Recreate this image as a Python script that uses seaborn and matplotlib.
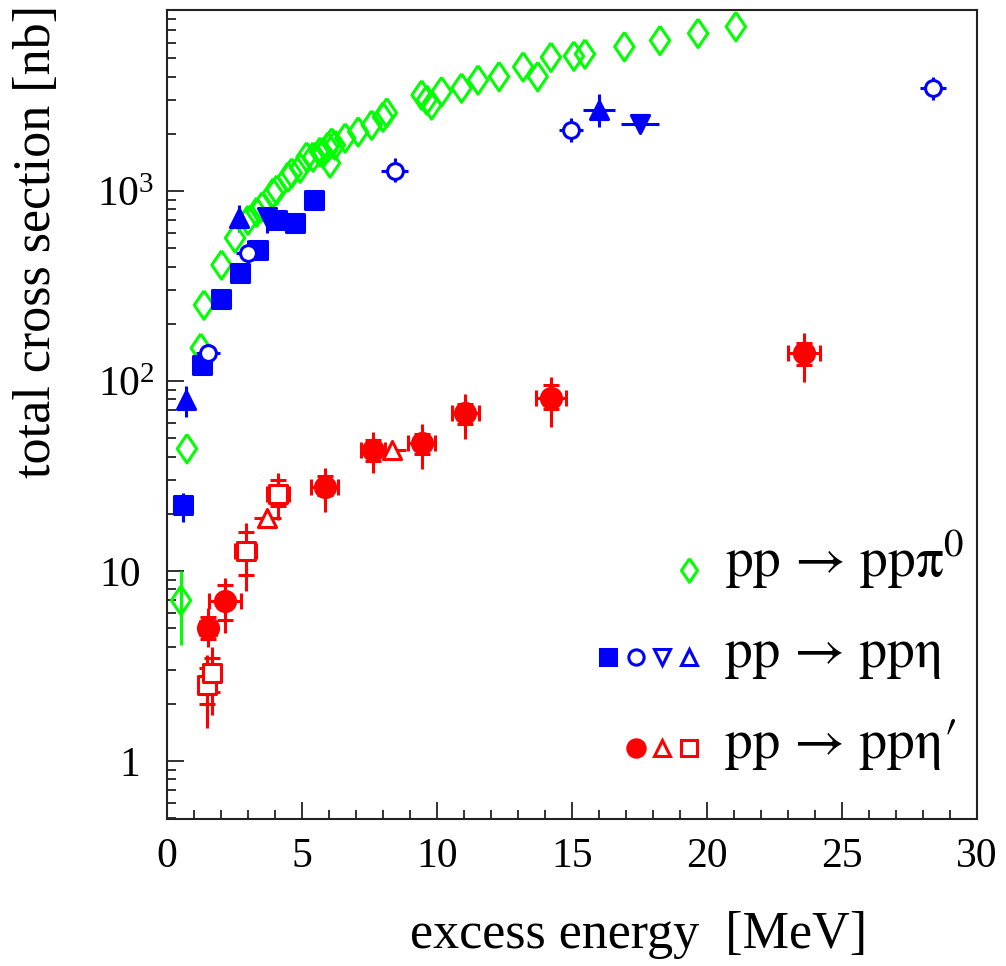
import numpy as np
import pandas as pd
import matplotlib
matplotlib.use("Agg")
import matplotlib.pyplot as plt
import matplotlib.transforms as mtransforms
from matplotlib.ticker import FixedLocator, FixedFormatter, LogLocator, NullFormatter, MultipleLocator
import seaborn as sns

# ---------------- data ----------------
# pp -> pp pi0 (open green diamonds)
pi0_x = [0.52, 0.74, 1.25, 1.37, 2.02, 2.52, 3.0, 3.32, 3.52, 3.93, 4.06, 4.48, 4.62, 4.93,
         5.17, 5.41, 5.67, 5.78, 5.96, 6.04, 6.1, 6.22, 6.6, 7.08, 7.58, 8.0, 8.14, 9.43,
         9.62, 9.8, 10.17, 10.91, 11.52, 12.3, 13.19, 13.73, 14.22, 15.07, 15.48, 16.94,
         18.26, 19.67, 21.07]
pi0_y = [7.0, 44, 149, 251, 408, 566, 703, 774, 824, 976, 1012, 1185, 1244, 1321,
         1510, 1510, 1604, 1585, 1706, 1404, 1791, 1746, 1900, 2048, 2223, 2450, 2580, 3200,
         3015, 2838, 3334, 3483, 3840, 4000, 4500, 4000, 5060, 5130, 5260, 5750,
         6200, 6760, 7330]
pi0_err_x = [0.52]
pi0_err_y = [7.0]
pi0_err_lo = [4.1]
pi0_err_hi = [10.0]

# pp -> pp eta
eta_sq_x = [0.6, 1.28, 2.0, 2.7, 3.38, 4.08, 4.74, 5.44]
eta_sq_y = [22.2, 121, 270, 370, 489, 703, 681, 897]
eta_sq_lo = [18.2, 112, 255, 350, 465, 670, 650, 860]
eta_sq_hi = [25.8, 130, 285, 390, 515, 735, 712, 935]

eta_circ_x = [1.53, 3.01, 8.44, 14.96, 28.38]
eta_circ_y = [141, 472, 1279, 2094, 3483]
eta_circ_lo = [128, 394, 1120, 1816, 3015]
eta_circ_hi = [155, 552, 1490, 2420, 4000]
eta_circ_xerr = [0.45, 0.45, 0.5, 0.45, 0.48]

eta_up_x = [0.7, 2.68, 16.0]
eta_up_y = [79, 721, 2667]
eta_up_lo = [65, 608, 2180]
eta_up_hi = [94, 844, 3230]
eta_up_xerr = [0.0, 0.0, 0.6]

eta_dn_x = [3.69, 17.52]
eta_dn_y = [730, 2253]
eta_dn_lo = [600, 2200]
eta_dn_hi = [760, 2300]
eta_dn_xerr = [0.0, 0.7]

# pp -> pp eta'
etap_circ_x = [1.53, 2.15, 5.85, 7.64, 9.43, 11.04, 14.22, 23.6]
etap_circ_y = [5.0, 6.95, 27.8, 43.3, 47, 67.7, 81.7, 140]
etap_circ_tot_lo = [4.0, 4.7, 20.4, 32.8, 34.4, 49.5, 57.6, 99]
etap_circ_tot_hi = [6.4, 9.2, 35, 53.7, 59.4, 85.5, 105, 179]
etap_circ_stat_lo = [4.4, 5.5, 25, 38, 41.5, 59.4, 71, 121]
etap_circ_stat_hi = [5.7, 8.4, 31.7, 49, 52.7, 75.7, 95, 158]
etap_circ_xerr = [0.3, 0.6, 0.5, 0.45, 0.5, 0.5, 0.55, 0.6]

etap_tri_x = [3.72, 8.35]
etap_tri_y = [18.9, 43.3]
etap_tri_xerr = [0.5, 0.5]

etap_sq_x = [1.47, 1.65, 2.91, 4.12]
etap_sq_y = [2.51, 2.9, 12.8, 25.4]
etap_sq_tot_lo = [1.5, 1.75, 7.8, 18.5]
etap_sq_tot_hi = [3.6, 4.0, 17.9, 32.8]
etap_sq_stat_lo = [2.0, 2.3, 9.5, 21.9]
etap_sq_stat_hi = [3.1, 3.5, 16.0, 30.0]
etap_sq_xerr = [0.3, 0.3, 0.4, 0.4]

legend_labels = ["pp \u2192 pp\u03c0$\\mathregular{^{0}}$", "pp \u2192 pp\u03b7", "pp \u2192 pp\u03b7\u2032"]
x_label = "excess energy  [MeV]"
y_label = "total cross section [nb]"
y_ticks = [1, 10, 100, 1000]
y_ticklabels = ["1", "10", "$\\mathregular{10^{3}}$".replace("3", "2"), "$\\mathregular{10^{3}}$"]

# ---------------- style ----------------
sns.set_theme(style="ticks")
plt.rcParams['font.family'] = ['Liberation Serif', 'DejaVu Serif']
plt.rcParams['mathtext.fontset'] = 'custom'
plt.rcParams['mathtext.rm'] = 'Liberation Serif'
plt.rcParams['mathtext.it'] = 'Liberation Serif:italic'
plt.rcParams['axes.facecolor'] = 'white'
for k in ['text.color', 'axes.labelcolor', 'xtick.color', 'ytick.color']:
    plt.rcParams[k] = 'black'

GREEN = '#00ff00'
BLUE = '#0000ff'
RED = '#ff0000'
LW = 2.2

fig = plt.figure(figsize=(10.06, 9.66), dpi=100)
ax = fig.add_axes([167 / 1006, 147 / 966, 810 / 1006, 809 / 966])
ax.set_yscale('log')


def ebar(x, y, lo=None, hi=None, xerr=None, color='k', capsize=0):
    y = np.asarray(y, float)
    yerr = None
    if lo is not None:
        yerr = [y - np.asarray(lo, float), np.asarray(hi, float) - y]
    ax.errorbar(x, y, yerr=yerr, xerr=xerr, fmt='none', ecolor=color,
                elinewidth=LW, capsize=capsize, capthick=LW, zorder=2)


def pts(x, y, marker, color, s, face=None):
    sns.scatterplot(x=x, y=y, ax=ax, marker=marker, s=s, color=color,
                    facecolor=(color if face is None else face), edgecolor=color,
                    linewidth=LW, zorder=3, legend=False)


diamond = [(0, 1), (0.68, 0), (0, -1), (-0.68, 0), (0, 1)]

# error bars
ebar(pi0_err_x, pi0_err_y, pi0_err_lo, pi0_err_hi, color=GREEN)
ebar(eta_sq_x, eta_sq_y, eta_sq_lo, eta_sq_hi, color=BLUE)
ebar(eta_circ_x, eta_circ_y, eta_circ_lo, eta_circ_hi, eta_circ_xerr, color=BLUE)
ebar(eta_up_x, eta_up_y, eta_up_lo, eta_up_hi, eta_up_xerr, color=BLUE)
ebar(eta_dn_x, eta_dn_y, eta_dn_lo, eta_dn_hi, eta_dn_xerr, color=BLUE)
ebar(etap_circ_x, etap_circ_y, etap_circ_tot_lo, etap_circ_tot_hi, color=RED)
ebar(etap_circ_x, etap_circ_y, etap_circ_stat_lo, etap_circ_stat_hi, etap_circ_xerr, color=RED, capsize=6)
ebar(etap_sq_x, etap_sq_y, etap_sq_tot_lo, etap_sq_tot_hi, color=RED)
ebar(etap_sq_x, etap_sq_y, etap_sq_stat_lo, etap_sq_stat_hi, etap_sq_xerr, color=RED, capsize=6)
ebar(etap_tri_x, etap_tri_y, xerr=etap_tri_xerr, color=RED)

# markers
pts(pi0_x, pi0_y, diamond, GREEN, 420, face='none')
pts(eta_sq_x, eta_sq_y, 's', BLUE, 165)
pts(eta_circ_x, eta_circ_y, 'o', BLUE, 130, face='white')
pts(eta_up_x, eta_up_y, '^', BLUE, 170)
pts(eta_dn_x, eta_dn_y, 'v', BLUE, 170)
pts(etap_circ_x, etap_circ_y, 'o', RED, 210)
pts(etap_tri_x, etap_tri_y, '^', RED, 170, face='white')
pts(etap_sq_x, etap_sq_y, 's', RED, 165, face='white')

# ---------------- axes ----------------
ax.set_xlim(0, 30)
ax.set_ylim(0.495, 8970)
ax.xaxis.set_major_locator(MultipleLocator(5))
ax.xaxis.set_minor_locator(MultipleLocator(1))
ax.yaxis.set_major_locator(FixedLocator(y_ticks))
ax.yaxis.set_major_formatter(FixedFormatter(y_ticklabels))
ax.yaxis.set_minor_locator(LogLocator(base=10, subs=np.arange(2, 10), numticks=30))
ax.yaxis.set_minor_formatter(NullFormatter())

ax.tick_params(axis='both', which='both', direction='in', top=False, right=False,
               color='#222222', width=1.3)
ax.tick_params(axis='both', which='major', length=12.5)
ax.tick_params(axis='both', which='minor', length=6.5)
ax.tick_params(axis='x', which='major', labelsize=30, pad=13)
ax.tick_params(axis='y', which='major', labelsize=30, pad=19)

for sp in ax.spines.values():
    sp.set_color('#222222')
    sp.set_linewidth(1.5)

# shift the 10^n labels to the right like the original
offset = mtransforms.ScaledTranslation(14 / 100, 0, fig.dpi_scale_trans)
for lbl in ax.get_yticklabels():
    if '^' in lbl.get_text():
        lbl.set_transform(lbl.get_transform() + offset)

ax.set_xlabel(x_label, fontsize=37.5, loc='right')
ax.xaxis.set_label_coords(0.864, -0.1595)
ax.xaxis.label.set_va('baseline')

ax.set_ylabel(y_label, fontsize=37.5, loc='top')
ax.yaxis.set_label_coords(-0.145, 1.006)
ax.yaxis.label.set_va('baseline')

# ---------------- legend ----------------
rows_y = [0.3078, 0.2002, 0.0878]
text_y = [0.2991, 0.1879, 0.0754]
mx = [0.5444, 0.5790, 0.6111, 0.6444]
leg_markers = [
    [(mx[3], diamond, GREEN, 'none', 17)],
    [(mx[0], 's', BLUE, BLUE, 12), (mx[1], 'o', BLUE, 'white', 11),
     (mx[2], 'v', BLUE, 'white', 11), (mx[3], '^', BLUE, 'white', 11)],
    [(mx[1], 'o', RED, RED, 12.5), (mx[2], '^', RED, 'white', 11),
     (mx[3], 's', RED, 'white', 11)],
]
for ry, ty, row, lab in zip(rows_y, text_y, leg_markers, legend_labels):
    for (xx, m, c, fc, ms) in row:
        ax.plot([xx], [ry], marker=m, ms=ms, mfc=fc, mec=c, mew=2.2, ls='none',
                transform=ax.transAxes, clip_on=False, zorder=4)
    ax.text(0.6889, ty, lab, transform=ax.transAxes, fontsize=40, ha='left', va='baseline',
            family=['STIXGeneral', 'Liberation Serif', 'DejaVu Serif'])

fig.savefig('out.png', dpi=100)
